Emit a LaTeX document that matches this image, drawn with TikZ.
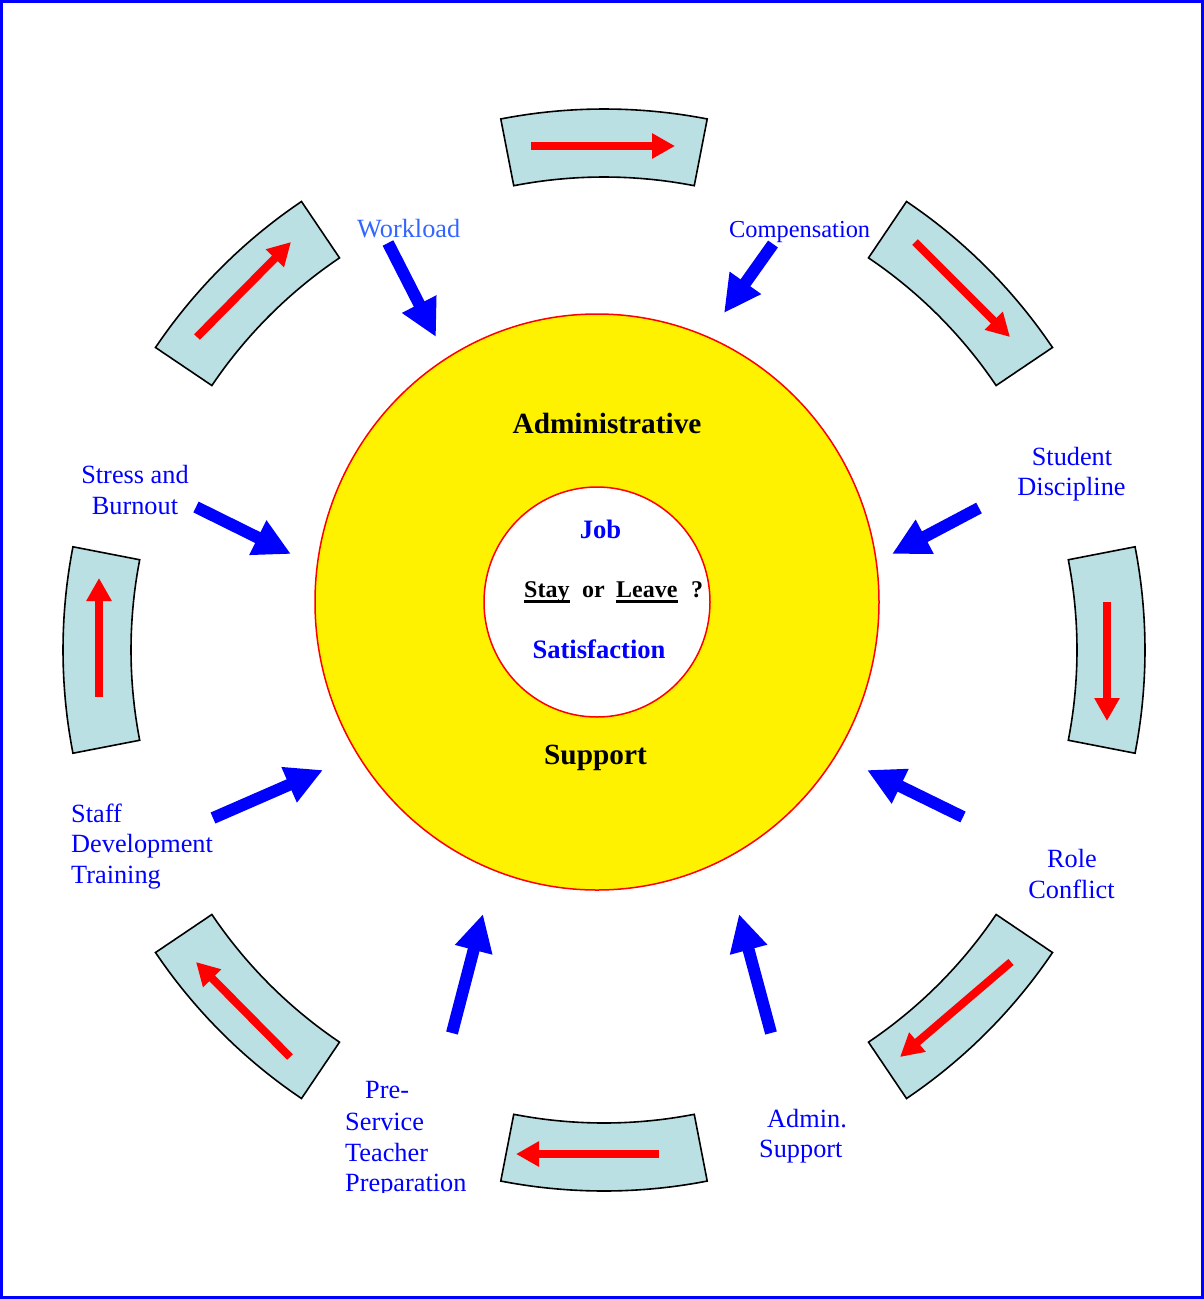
\documentclass[tikz,border=0pt]{standalone}
\usepackage{fontspec}
\setmainfont{Liberation Serif}
\usetikzlibrary{arrows.meta,shapes.geometric}
\definecolor{segfill}{RGB}{187,224,227}
\definecolor{lblue}{RGB}{51,102,255}
\begin{document}
\begin{tikzpicture}[x=1pt,y=-1pt,
  seg/.style={fill=segfill,draw=black,line width=1.6pt,line join=miter},
  redarrow/.style={red,line width=8pt,-{Triangle[width=24pt,length=23pt]}},
  bluearrow/.style={blue,line width=12pt,-{Triangle[width=36pt,length=37pt]}},
  lbl/.style={text=blue,inner sep=0pt,font=\fontsize{26.3}{31}\selectfont},
  big/.style={inner sep=0pt,font=\fontsize{29.3}{34}\selectfont\bfseries},
  mid/.style={text=blue,inner sep=0pt,font=\fontsize{26.6}{31}\selectfont\bfseries},
  sml/.style={inner sep=0pt,font=\fontsize{24}{28}\selectfont\bfseries}]
\useasboundingbox (0,0) rectangle (1204,1299);
\draw[blue,line width=2.5pt] (1.5,1.5) rectangle (1202.5,1297.5);

% ring of segments
\foreach \t in {90,45,0,-45,-90,-135,180,135} {
  \pgfmathsetmacro\ta{\t-11}
  \pgfmathsetmacro\tb{\t+11}
  \filldraw[seg] plot[domain=\ta:\tb,samples=40,variable=\u] ({604+541*cos(\u)},{650-541*sin(\u)})
     -- plot[domain=\tb:\ta,samples=40,variable=\u] ({604+473*cos(\u)},{650-473*sin(\u)}) -- cycle;
}

% red arrows (clockwise)
\draw[redarrow] (531,146) -- (675,146);
\draw[redarrow] (915,242) -- (1010,337);
\draw[redarrow] (1107,602) -- (1107,721);
\draw[redarrow] (1011,962) -- (900,1057);
\draw[redarrow] (659,1154) -- (516,1154);
\draw[redarrow] (290,1057) -- (196,962);
\draw[redarrow] (99,697) -- (99,578);
\draw[redarrow] (197,337) -- (291,242);

% circles
\node[ellipse,draw=red,fill=yellow,line width=1.5pt,minimum width=564pt,minimum height=576pt,inner sep=0pt] (outer) at (597,602) {};
\node[ellipse,draw=red,fill=white,line width=1.5pt,minimum width=226pt,minimum height=230pt,inner sep=0pt] (inner) at (597,602) {};

\node[big,anchor=base] (admin) at (607,433) {Administrative};
\node[big,anchor=base] (support) at (595.5,764) {Support};
\node[mid,anchor=base] (job) at (600.5,538) {Job};
\node[mid,anchor=base] (sat) at (599,658) {Satisfaction};
\node[sml,anchor=base west] (stay) at (524,597) {Stay};
\node[sml,anchor=base west] (or) at (582,597) {or};
\node[sml,anchor=base west] (leave) at (616,597) {Leave};
\node[sml,anchor=base west] (q) at (691,597) {?};
\draw[line width=2.2pt] ([yshift=-4.5pt]stay.base west) -- ([yshift=-4.5pt]stay.base east);
\draw[line width=2.2pt] ([yshift=-4.5pt]leave.base west) -- ([yshift=-4.5pt]leave.base east);

% labels
\node[lbl,text=lblue,anchor=base west] (workload) at (357,237) {Workload};
\node[lbl,font=\fontsize{24.4}{29}\selectfont,anchor=base west] (comp) at (729,237) {Compensation};
\node[lbl,anchor=base] (stud1) at (1072,465) {Student};
\node[lbl,anchor=base] (stud2) at (1071.5,495) {Discipline};
\node[lbl,anchor=base] (role1) at (1072,867) {Role};
\node[lbl,anchor=base] (role2) at (1071.5,898) {Conflict};
\node[lbl,anchor=base west] (adm1) at (767,1127) {Admin.};
\node[lbl,anchor=base west] (adm2) at (759,1157) {Support};
\node[lbl,anchor=base west] (pre1) at (365,1098) {Pre-};
\node[lbl,anchor=base west] (pre2) at (345,1130) {Service};
\node[lbl,anchor=base west] (pre3) at (345,1161) {Teacher};
\begin{scope}
\clip (330,1165) rectangle (500,1192);
\node[lbl,anchor=base west] (pre4) at (345,1191) {Preparation};
\end{scope}
\node[lbl,anchor=base west] (staff1) at (71,822) {Staff};
\node[lbl,anchor=base west] (staff2) at (71,852) {Development};
\node[lbl,anchor=base west] (staff3) at (71,883) {Training};
\node[lbl,anchor=base] (str1) at (135,483) {Stress and};
\node[lbl,anchor=base] (str2) at (135,514) {Burnout};

% blue arrows
\coordinate (wlT) at (388,243);  \coordinate (wlH) at (436,337);
\coordinate (cpT) at (773,244);  \coordinate (cpH) at (724,313);
\coordinate (sdT) at (979,508);  \coordinate (sdH) at (892,554);
\coordinate (rcT) at (963,817);  \coordinate (rcH) at (867,770);
\coordinate (asT) at (771,1033); \coordinate (asH) at (739,914);
\coordinate (psT) at (452,1033); \coordinate (psH) at (483,914);
\coordinate (sfT) at (213,818);  \coordinate (sfH) at (323,770);
\coordinate (sbT) at (196,507);  \coordinate (sbH) at (291,554);
\foreach \a in {wl,cp,sd,rc,as,ps,sf,sb} { \draw[bluearrow] (\a T) -- (\a H); }
\end{tikzpicture}
\end{document}
